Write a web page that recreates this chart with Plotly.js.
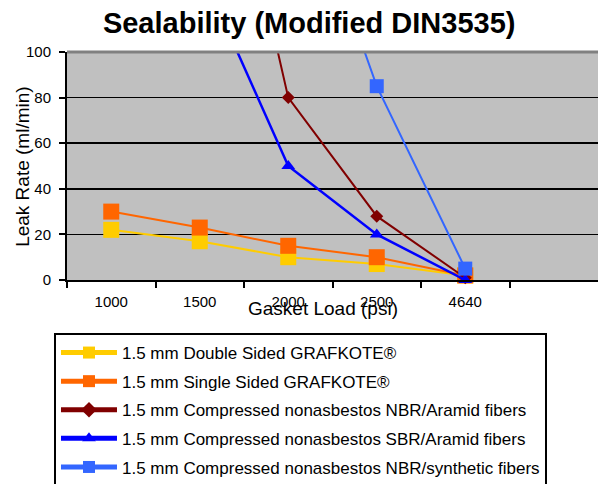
<!DOCTYPE html>
<html>
<head>
<meta charset="utf-8">
<script src="https://cdn.plot.ly/plotly-3.0.1.min.js"></script>
<style>html,body{margin:0;padding:0;background:#fff;}#chart{width:598px;height:484px;}</style>
</head>
<body>
<div id="chart"></div>
<script>
// Categories on the x axis (gasket load, psi)
const categories = ['1000', '1500', '2000', '2500', '4640'];
// Leak rate (ml/min) per series; values above 100 run off the top of the chart
const doubleSided = [22, 17, 10, 7, 2];
const singleSided = [30, 23, 15, 10, 2];
const nbrAramid = [null, 250, 80, 28, 1];
const sbrAramid = [null, 137, 50, 20, 0];
const nbrSynthetic = [null, null, 195, 85, 5];
const seriesNames = [
  '1.5 mm Double Sided GRAFKOTE®',
  '1.5 mm Single Sided GRAFKOTE®',
  '1.5 mm Compressed nonasbestos NBR/Aramid fibers',
  '1.5 mm Compressed nonasbestos SBR/Aramid fibers',
  '1.5 mm Compressed nonasbestos NBR/synthetic fibers'
];
const yTicks = [0, 20, 40, 60, 80, 100];

const FONT = 'Liberation Sans, Arial, sans-serif';
const styles = [
  {color: '#FFCC00', symbol: 'square', size: 16, width: 2},
  {color: '#FF6600', symbol: 'square', size: 16, width: 2},
  {color: '#800000', symbol: 'diamond', size: 10, width: 2},
  {color: '#0000FF', symbol: 'triangle-up', size: 12, width: 2.5},
  {color: '#3366FF', symbol: 'square', size: 14, width: 2}
];
const seriesValues = [doubleSided, singleSided, nbrAramid, sbrAramid, nbrSynthetic];

const traces = seriesValues.map((vals, i) => ({
  type: 'scatter',
  mode: 'lines+markers',
  x: categories,
  y: vals,
  name: seriesNames[i],
  legendgroup: 'g' + i,
  cliponaxis: false,
  line: {color: styles[i].color, width: styles[i].width},
  marker: {color: styles[i].color, symbol: styles[i].symbol, size: styles[i].size, line: {width: 0}}
}));

const layout = {
  width: 598,
  height: 484,
  margin: {l: 67, r: 0, t: 52, b: 204, pad: 0, autoexpand: false},
  paper_bgcolor: '#FFFFFF',
  plot_bgcolor: '#C0C0C0',
  font: {family: FONT, color: '#000000', size: 15},
  title: {
    text: '<b>Sealability (Modified DIN3535)</b>',
    font: {family: FONT, size: 29, color: '#000000'},
    xref: 'container', x: 0.517, xanchor: 'center',
    yref: 'container', y: 0.952, yanchor: 'middle'
  },
  xaxis: {
    type: 'category',
    categoryorder: 'array',
    categoryarray: categories,
    range: [-0.5, 5.5],
    tickson: 'boundaries',
    ticks: 'outside',
    ticklen: 6,
    tickwidth: 2,
    tickcolor: '#000000',
    ticklabelstandoff: 7,
    showline: true,
    linecolor: '#000000',
    linewidth: 2,
    showgrid: false,
    zeroline: false,
    tickfont: {family: FONT, size: 15, color: '#000000'},
    fixedrange: true
  },
  yaxis: {
    range: [0, 100],
    tickvals: yTicks,
    ticks: 'outside',
    ticklen: 6,
    tickwidth: 2,
    tickcolor: '#000000',
    ticklabelstandoff: 5,
    showline: true,
    linecolor: '#000000',
    linewidth: 2,
    showgrid: true,
    gridcolor: '#000000',
    gridwidth: 1.5,
    zeroline: false,
    tickfont: {family: FONT, size: 15, color: '#000000'},
    automargin: false,
    fixedrange: true
  },
  shapes: [{
    type: 'line', xref: 'paper', yref: 'paper', x0: 0, x1: 1, y0: 1, y1: 1,
    line: {color: '#808080', width: 3}, layer: 'above'
  }],
  annotations: [{
    text: 'Gasket Load (psi)',
    xref: 'paper', yref: 'paper', x: 0.482, y: -0.127,
    xanchor: 'center', yanchor: 'middle', showarrow: false,
    font: {family: FONT, size: 19, color: '#000000'}
  }, {
    text: 'Leak Rate (ml/min)',
    xref: 'paper', yref: 'paper', x: -0.085, y: 0.5,
    xanchor: 'center', yanchor: 'middle', showarrow: false, textangle: -90,
    font: {family: FONT, size: 19, color: '#000000'}
  }],
  showlegend: true,
  legend: {
    x: -0.0245, y: -0.2325, xanchor: 'left', yanchor: 'top',
    bgcolor: '#FFFFFF', bordercolor: '#000000', borderwidth: 2,
    font: {family: FONT, size: 17, color: '#000000'},
    itemwidth: 56,
    itemsizing: 'constant',
    tracegroupgap: 3.5,
    traceorder: 'grouped'
  }
};

Plotly.newPlot('chart', traces, layout, {displayModeBar: false, staticPlot: true});
</script>
</body>
</html>
